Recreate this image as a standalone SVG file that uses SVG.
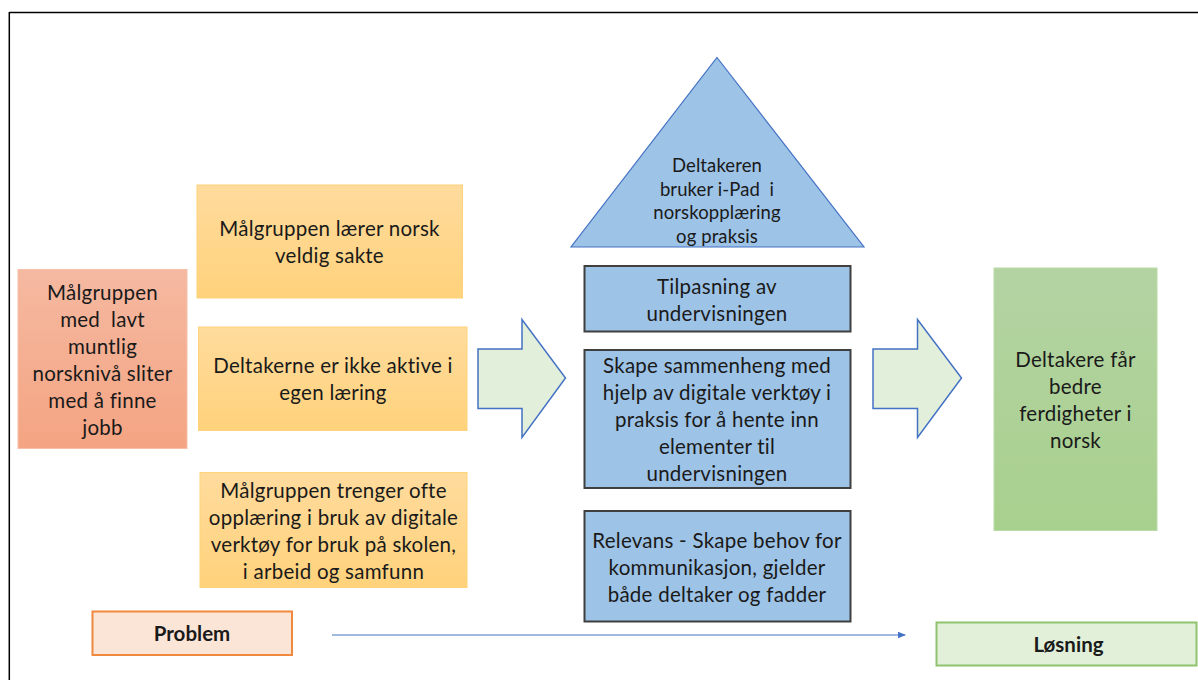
<svg xmlns="http://www.w3.org/2000/svg" width="1198" height="680" viewBox="0 0 1198 680">
<style>
text{font-family:Lato,"Liberation Sans",sans-serif;fill:#1a1a1a;text-anchor:middle}
.t{font-size:20.5px;letter-spacing:0.25px}
.tri{font-size:18.5px;letter-spacing:0.1px}
.b{font-size:20.5px;font-weight:bold}
.pre{white-space:pre}
.yel{fill:url(#gy);stroke:#FFD37A;stroke-width:1}
.blue{fill:#9DC3E6;stroke:#3F3F3F;stroke-width:2}
.arr{fill:#E2EFDA;stroke:#4472C4;stroke-width:1.5}
</style>
<defs>
<linearGradient id="gs" x1="0" y1="0" x2="0" y2="1"><stop offset="0" stop-color="#F5B9A1"/><stop offset="1" stop-color="#F4A482"/></linearGradient>
<linearGradient id="gy" x1="0" y1="0" x2="0" y2="1"><stop offset="0" stop-color="#FFDB9D"/><stop offset="1" stop-color="#FFD27B"/></linearGradient>
<linearGradient id="gg" x1="0" y1="0" x2="0" y2="1"><stop offset="0" stop-color="#B4D3A3"/><stop offset="1" stop-color="#A8D08D"/></linearGradient>
<marker id="ah" markerWidth="8" markerHeight="8" refX="7" refY="4" orient="auto" markerUnits="userSpaceOnUse"><path d="M0,0.8 L8,4 L0,7.2 Z" fill="#4472C4"/></marker>
</defs>
<rect width="1198" height="680" fill="#fff"/>
<g id="frame" fill="none" stroke="#000" stroke-width="1.5">
<line x1="9.3" y1="12.5" x2="1198" y2="12.5"/>
<line x1="9.3" y1="12" x2="9.3" y2="680"/>
</g>
<g id="n-problem-main">
<rect x="18" y="269.5" width="169" height="179" fill="url(#gs)" stroke="#F6BFA8" stroke-width="1"/>
<text class="t" x="102.5" y="300">Målgruppen</text>
<text class="t pre" x="102.5" y="327">med  lavt</text>
<text class="t" x="102.5" y="354">muntlig</text>
<text class="t" x="102.5" y="381">norsknivå sliter</text>
<text class="t" x="102.5" y="408">med å finne</text>
<text class="t" x="102.5" y="435">jobb</text>
</g>
<g id="n-y1">
<rect class="yel" x="197" y="185" width="265.5" height="113"/>
<text class="t" x="329.5" y="236">Målgruppen lærer norsk</text>
<text class="t" x="329.5" y="263">veldig sakte</text>
</g>
<g id="n-y2">
<rect class="yel" x="198.5" y="327" width="268.5" height="103.5"/>
<text class="t" x="333" y="373">Deltakerne er ikke aktive i</text>
<text class="t" x="333" y="400">egen læring</text>
</g>
<g id="n-y3">
<rect class="yel" x="200" y="472.5" width="267" height="115"/>
<text class="t" x="333.5" y="498">Målgruppen trenger ofte</text>
<text class="t" x="333.5" y="525">opplæring i bruk av digitale</text>
<text class="t" x="333.5" y="552">verktøy for bruk på skolen,</text>
<text class="t" x="333.5" y="579">i arbeid og samfunn</text>
</g>
<g id="n-arrow1">
<path class="arr" d="M478,349 L522,349 L522,319.5 L565.5,378 L522,437.5 L522,408.5 L478,408.5 Z"/>
</g>
<g id="n-triangle">
<path d="M717,57.5 L864,247 L571,247 Z" fill="#9DC3E6" stroke="#4472C4" stroke-width="1.2"/>
<text class="tri" x="717" y="172">Deltakeren</text>
<text class="tri pre" x="717" y="195.5">bruker i-Pad  i</text>
<text class="tri" x="717" y="219">norskopplæring</text>
<text class="tri" x="717" y="243">og praksis</text>
</g>
<g id="n-b1">
<rect class="blue" x="584.5" y="266" width="266" height="65.5"/>
<text class="t" x="717" y="294">Tilpasning av</text>
<text class="t" x="717" y="321">undervisningen</text>
</g>
<g id="n-b2">
<rect class="blue" x="584.5" y="350" width="266" height="138"/>
<text class="t" x="717" y="373">Skape sammenheng med</text>
<text class="t" x="717" y="400">hjelp av digitale verktøy i</text>
<text class="t" x="717" y="427">praksis for å hente inn</text>
<text class="t" x="717" y="454">elementer til</text>
<text class="t" x="717" y="481">undervisningen</text>
</g>
<g id="n-b3">
<rect class="blue" x="584.5" y="511" width="266" height="110.5"/>
<text class="t" x="717" y="548">Relevans - Skape behov for</text>
<text class="t" x="717" y="575">kommunikasjon, gjelder</text>
<text class="t" x="717" y="602">både deltaker og fadder</text>
</g>
<g id="n-arrow2">
<path class="arr" d="M873,349 L917.5,349 L917.5,319.5 L961.5,378 L917.5,437.5 L917.5,408.5 L873,408.5 Z"/>
</g>
<g id="n-result">
<rect x="994" y="268" width="163" height="262.5" fill="url(#gg)" stroke="#B9DBA6" stroke-width="1"/>
<text class="t" x="1075.5" y="367">Deltakere får</text>
<text class="t" x="1075.5" y="394">bedre</text>
<text class="t" x="1075.5" y="421">ferdigheter i</text>
<text class="t" x="1075.5" y="448">norsk</text>
</g>
<g id="n-problem">
<rect x="92.5" y="611.5" width="199.5" height="43.5" fill="#FBE5D6" stroke="#F0883F" stroke-width="2"/>
<text class="b" x="192" y="641">Problem</text>
</g>
<g id="connectors">
<line x1="332" y1="635" x2="905" y2="635" stroke="#4472C4" stroke-width="1" marker-end="url(#ah)"/>
</g>
<g id="n-solution">
<rect x="936.5" y="622.5" width="260" height="43" fill="#E2F0D9" stroke="#8FC36E" stroke-width="2"/>
<text class="b" x="1068.5" y="652">Løsning</text>
</g>
</svg>
